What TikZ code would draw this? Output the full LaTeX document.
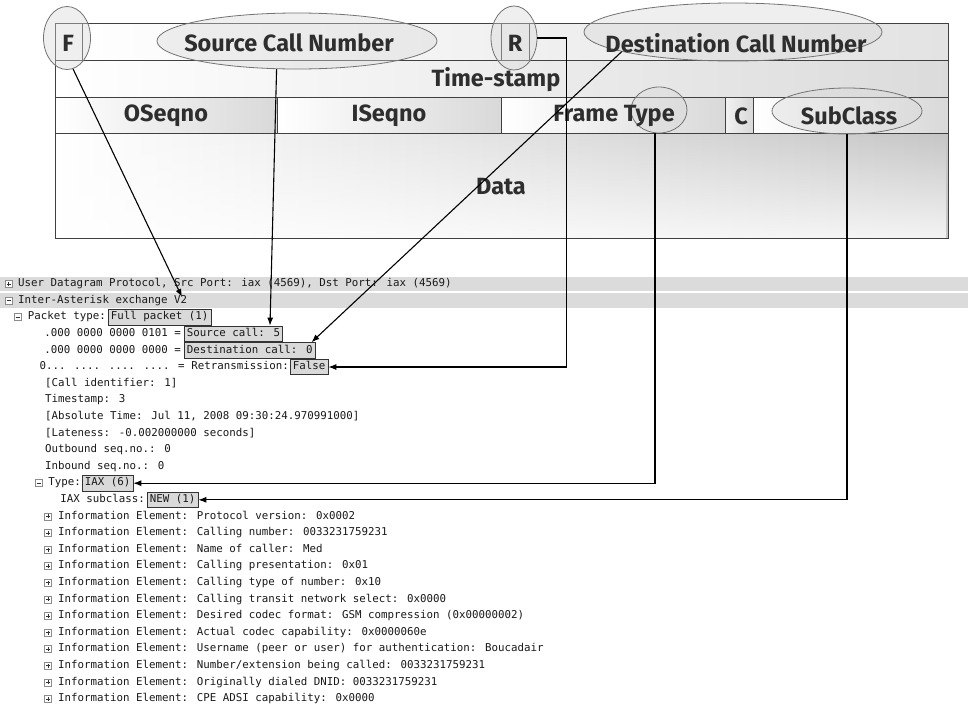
\documentclass[tikz,border=0pt]{standalone}
\usepackage{fontspec}
\setmainfont{Fira Sans}
\newfontfamily\treefont{DejaVu Sans Mono}
\usetikzlibrary{arrows.meta,shapes.geometric,calc,fadings}

\tikzset{
  hdr/.style={font=\fontsize{23.5}{26}\selectfont\bfseries, text=black!82, inner sep=0pt},
  field/.style={ellipse, draw=black!55, line width=0.8pt, fill=gray!30, fill opacity=0.4, inner sep=0pt},
  tree/.style={font=\treefont\fontsize{10.8}{12}\selectfont, text=black!90, inner sep=0pt,
               anchor=west, text height=8pt, text depth=2.5pt},
  hl/.style={tree, draw=black!80, fill=gray!30, line width=0.8pt, inner xsep=2.5pt, inner ysep=2.5pt},
  link/.style={line width=1.1pt, black, -{Latex[length=8pt,width=6pt]}},
  grid/.style={draw=black!75, line width=0.8pt},
  band/.style={fill=gray!28},
  pics/plusbox/.style={code={
    \draw[black!45, fill=white, line width=0.5pt] (-3.5,-3.5) rectangle (3.5,3.5);
    \draw[black!80, line width=0.7pt] (-2,0) -- (2,0) (0,-2) -- (0,2);}},
  pics/minusbox/.style={code={
    \draw[black!45, fill=white, line width=0.5pt] (-3.5,-3.5) rectangle (3.5,3.5);
    \draw[black!80, line width=0.7pt] (-2,0) -- (2,0);}},
}

\begin{document}
\begin{tikzpicture}[x=1pt,y=-1pt]
\useasboundingbox (0,0) rectangle (968,710);
\fill[white] (0,0) rectangle (968,710);

% ---------- IAX2 full frame header ----------
\shade[left color=white, right color=gray!22] (55,23) rectangle (948,60);
\shade[left color=white, right color=gray!28] (55,60) rectangle (948,97);
\shade[left color=white, right color=gray!30] (55,97) rectangle (277,133);
\shade[left color=white, right color=gray!30] (277,97) rectangle (501,133);
\shade[left color=white, right color=gray!30] (501,97) rectangle (725,133);
\shade[left color=gray!10, right color=gray!30] (725,97) rectangle (753,133);
\shade[left color=white, right color=gray!30] (753,97) rectangle (948,133);
\shade[left color=white, right color=gray!45] (55,133) rectangle (948,238);
\fill[white, path fading=north, fill opacity=0.8] (55,133) rectangle (948,238);

\draw[grid] (55,23) rectangle (948,238);
\draw[grid] (55,60) -- (948,60) (55,97) -- (948,97) (55,133) -- (948,133);
\draw[grid] (82,23) -- (82,60) (501,23) -- (501,60) (529,23) -- (529,60);
\draw[grid] (277,97) -- (277,133) (501,97) -- (501,133) (725,97) -- (725,133) (753,97) -- (753,133);

% highlighted fields
\node[field, minimum width=47pt, minimum height=63pt] (Fe) at (67,38) {};
\node[field, minimum width=280pt, minimum height=56pt] (Se) at (297,41) {};
\node[field, minimum width=46pt, minimum height=64pt] (Re) at (514,38) {};
\node[field, minimum width=298pt, minimum height=58pt] (De) at (733,32) {};
\node[field, minimum width=56pt, minimum height=46pt] (Te) at (659,110) {};
\node[field, minimum width=150pt, minimum height=46pt] (Ce) at (847,111) {};

% field names
\node[hdr] (fF) at (68,43) {F};
\node[hdr] (fSrc) at (289,43) {Source Call Number};
\node[hdr] (fR) at (515,43) {R};
\node[hdr] (fDst) at (736,43) {Destination Call Number};
\node[hdr] (fTs) at (496,80) {Time-stamp};
\node[hdr] (fOs) at (166,116) {OSeqno};
\node[hdr] (fIs) at (389,116) {ISeqno};
\node[hdr] (fFt) at (614,116) {Frame Type};
\node[hdr] (fC) at (741,116) {C};
\node[hdr] (fSc) at (849,116) {SubClass};
\node[hdr] (fData) at (501,187) {Data};

% ---------- decoded packet tree ----------
\fill[band] (0,277) rectangle (968,291);
\fill[band] (0,293) rectangle (968,308);

\pic at (8.5,284) {plusbox};
\node[tree] (t0) at (18,284) {User Datagram Protocol, Src Port: iax (4569), Dst Port: iax (4569)};
\pic at (8.5,300.6) {minusbox};
\node[tree] (t1) at (18,300.6) {Inter-Asterisk exchange V2};

\node[hl] (full) at (108,317.2) {Full packet (1)};
\node[tree, anchor=east] (t2) at ($(full.west)+(-2,0)$) {Packet type:};
\pic at ($(t2.west)+(-10,0)$) {minusbox};

\node[hl] (srcbox) at (184,333.8) {Source call: 5};
\node[tree, anchor=east] (t3) at ($(srcbox.west)+(-3,0)$) {.000 0000 0000 0101 =};
\node[hl] (dstbox) at (184,350.4) {Destination call: 0};
\node[tree, anchor=east] (t4) at ($(dstbox.west)+(-3,0)$) {.000 0000 0000 0000 =};
\node[hl] (false) at (290,367) {False};
\node[tree, anchor=east] (t5) at ($(false.west)+(-1,0)$) {0... .... .... .... = Retransmission:};

\node[tree] (t6) at (45,383.6) {[Call identifier: 1]};
\node[tree] (t7) at (45,400.2) {Timestamp: 3};
\node[tree] (t8) at (45,416.8) {[Absolute Time: Jul 11, 2008 09:30:24.970991000]};
\node[tree] (t9) at (45,433.4) {[Lateness: -0.002000000 seconds]};
\node[tree] (t10) at (45,450) {Outbound seq.no.: 0};
\node[tree] (t11) at (45,466.6) {Inbound seq.no.: 0};

\node[hl] (iax) at (82,483.2) {IAX (6)};
\node[tree, anchor=east] (t12) at ($(iax.west)+(-1,0)$) {Type:};
\pic at ($(t12.west)+(-9,0)$) {minusbox};
\node[hl] (new) at (147,499.8) {NEW (1)};
\node[tree, anchor=east] (t13) at ($(new.west)+(-2,0)$) {IAX subclass:};

\foreach \i/\txt in {
  14/{Protocol version: 0x0002},
  15/{Calling number: 0033231759231},
  16/{Name of caller: Med},
  17/{Calling presentation: 0x01},
  18/{Calling type of number: 0x10},
  19/{Calling transit network select: 0x0000},
  20/{Desired codec format: GSM compression (0x00000002)},
  21/{Actual codec capability: 0x0000060e},
  22/{Username (peer or user) for authentication: Boucadair},
  23/{Number/extension being called: 0033231759231},
  24/{Originally dialed DNID: 0033231759231},
  25/{CPE ADSI capability: 0x0000}} {
  \pic at (48,284+16.6*\i) {plusbox};
  \node[tree] (ie\i) at (58,284+16.6*\i) {Information Element: \txt};
}

% ---------- connectors ----------
\coordinate (fEnd) at (182,297);
\draw[link] (Fe.-79) -- (fEnd);
\draw[link] (Se.-126) -- ($(srcbox.north east)+(-13,0)$);
\draw[link] (De.-170) -- ($(dstbox.north east)+(-4,0)$);
\draw[link] (Re.east) -- ++(29,0) |- (false.east);
\draw[link] ($(Te.south)+(-4,0)$) |- (iax.east);
\draw[link] (Ce.south) |- (new.east);
\end{tikzpicture}
\end{document}
